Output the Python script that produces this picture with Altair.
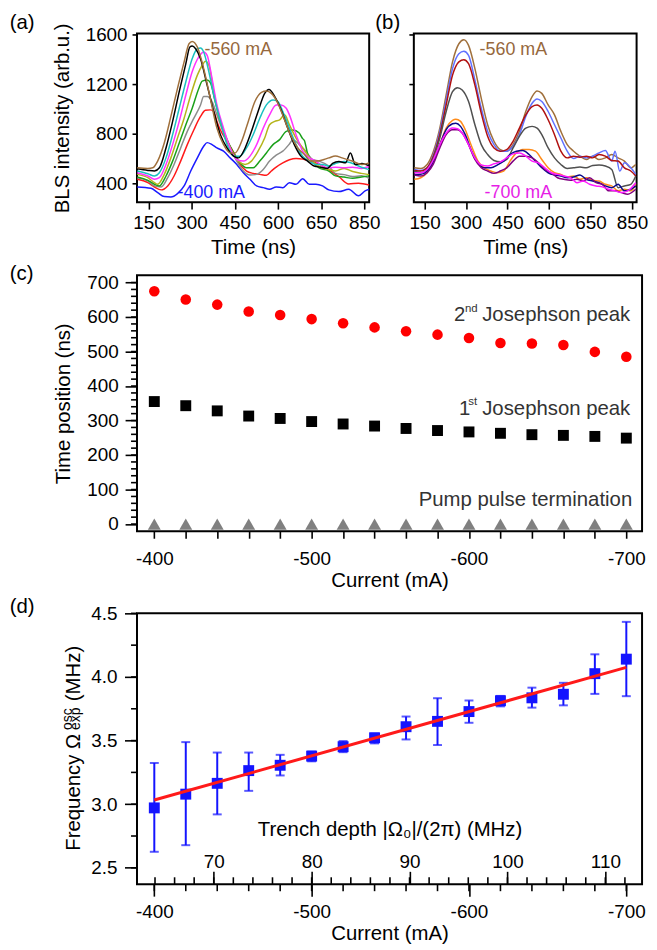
import altair as alt
import pandas as pd

FONT = "Liberation Sans"

# ---------------- panel (a): BLS traces from -400 to -560 mA ----------------
a_names = ["-400 mA", "-420 mA", "-440 mA", "-460 mA", "-480 mA",
           "-500 mA", "-520 mA", "-540 mA", "-560 mA"]
a_colors = ["#1a1aff", "#ff1a1a", "#8c8c8c", "#1aa01a", "#b4b41a",
            "#ff33ff", "#1ac0c0", "#000000", "#a0703c"]
a_m400 = [(111,371),(159,360),(182,325),(205,293),(228,290),(251,317),(274,379),(297,499),(320,605),(342,699),(354,728),(371,712),(388,685),(411,659),(434,605),(457,552),(480,485),(503,432),(526,379),(549,365),(571,352),(594,371),(617,365),(640,405),(663,392),(686,437),(709,392),(732,392),(755,379),(777,347),(812,333),(846,352),(880,299),(903,339),(917,352)]
a_m420 = [(111,432),(148,405),(171,370),(194,347),(217,379),(239,459),(262,579),(285,712),(308,832),(331,939),(348,989),(365,992),(377,979),(388,899),(400,830),(423,740),(446,650),(468,552),(491,499),(514,480),(537,472),(560,465),(577,499),(594,531),(617,565),(640,590),(663,600),(686,595),(709,580),(732,565),(755,540),(777,510),(812,453),(846,395),(880,400),(917,387)]
a_m440 = [(111,445),(148,419),(171,379),(194,370),(217,445),(239,552),(262,685),(285,819),(308,925),(331,1032),(342,1099),(354,1099),(371,1059),(388,952),(411,805),(434,685),(457,579),(480,499),(503,467),(526,472),(549,512),(571,579),(594,627),(617,659),(640,717),(652,752),(674,712),(697,659),(720,592),(743,579),(777,539),(800,480),(830,470),(860,455),(890,460),(917,440)]
a_m460 = [(111,451),(148,424),(171,392),(188,379),(211,459),(234,579),(257,725),(280,872),(302,1005),(325,1165),(337,1224),(354,1232),(365,1213),(382,1059),(400,899),(423,752),(446,645),(468,565),(491,525),(514,525),(537,579),(560,645),(583,712),(606,752),(629,819),(652,829),(674,805),(686,760),(692,745),(703,640),(720,579),(743,525),(777,499),(800,460),(830,450),(860,440),(890,450),(917,460)]
a_m480 = [(111,472),(148,445),(171,405),(182,392),(205,472),(228,605),(251,765),(274,925),(297,1112),(320,1272),(337,1352),(348,1384),(360,1352),(377,1139),(394,952),(417,779),(440,659),(463,579),(486,552),(508,579),(531,659),(554,765),(571,872),(589,899),(606,912),(623,952),(640,872),(663,765),(686,685),(709,611),(732,552),(755,525),(777,512),(800,500),(830,520),(860,495),(890,480),(917,470)]
a_m500 = [(111,485),(148,459),(171,432),(188,445),(211,552),(234,712),(257,899),(280,1112),(302,1299),(325,1419),(342,1459),(354,1432),(371,1245),(388,1032),(411,845),(434,685),(457,592),(480,579),(503,619),(526,712),(549,845),(571,952),(594,1032),(611,1032),(629,1005),(640,952),(663,792),(686,659),(709,605),(732,579),(755,539),(777,525),(800,530),(830,525),(860,530),(890,520),(917,535)]
a_m520 = [(111,499),(148,477),(171,459),(188,485),(211,605),(234,792),(257,1005),(280,1219),(302,1405),(320,1485),(331,1491),(342,1459),(360,1299),(377,1112),(400,899),(423,712),(446,619),(468,619),(491,685),(514,792),(537,925),(560,1032),(583,1072),(600,1059),(617,979),(640,845),(663,712),(686,619),(709,579),(732,552),(755,552),(777,539),(800,560),(830,575),(860,560),(890,530),(917,510)]
a_m540 = [(111,517),(148,504),(171,499),(188,525),(211,685),(234,899),(257,1139),(280,1365),(294,1499),(302,1507),(314,1485),(331,1405),(354,1192),(377,979),(400,792),(423,685),(446,619),(463,605),(486,685),(508,819),(531,979),(554,1125),(569,1157),(589,1099),(611,992),(634,845),(657,712),(680,619),(703,579),(726,539),(749,530),(772,520),(790,560),(812,575),(835,565),(852,645),(869,552),(892,560),(917,540)]
a_m560 = [(111,525),(148,520),(165,525),(182,579),(205,725),(228,939),(251,1165),(274,1379),(291,1525),(302,1544),(320,1499),(342,1325),(365,1085),(388,845),(411,712),(434,645),(451,645),(474,739),(497,899),(520,1059),(543,1133),(560,1144),(577,1125),(600,1045),(623,912),(646,779),(669,685),(692,632),(715,579),(737,579),(760,592),(777,605),(800,620),(823,605),(858,580),(892,552),(917,565)]
a_curves = [a_m400, a_m420, a_m440, a_m460, a_m480, a_m500, a_m520, a_m540, a_m560]

# ---------------- panel (b): BLS traces from -560 to -700 mA ----------------
b_names = ["-560 mA ", "-580 mA", "-600 mA", "-620 mA",
           "-640 mA", "-660 mA", "-680 mA", "-700 mA"]
b_colors = ["#a0703c", "#6070ff", "#b01010", "#505050",
            "#ff8c1a", "#0a0a8c", "#800080", "#ff1aff"]
b_t1 = [113,136,159,182,205,228,251,274,292,309,332,355,378,401,424,447,470,493,516,539,557,574,597,620,643,666,689,712,735,758,781,804,827,850,873,896,914]
b_m560 = [525,520,552,659,845,1112,1379,1525,1557,1512,1325,1085,872,739,672,659,712,819,979,1099,1144,1125,1032,952,819,712,659,619,592,619,592,605,632,605,579,525,552]
b_t2 = [113,136,159,182,205,228,251,274,292,309,332,355,378,401,424,447,470,493,516,539,557,574,597,620,643,666,689,712,735,758,781,804,827,839,856,873,896,914]
b_m580 = [512,504,525,632,819,1072,1325,1445,1464,1432,1232,1005,819,712,659,659,699,792,939,1045,1080,1059,979,872,765,659,600,619,605,619,645,664,579,659,499,565,525,472]
b_m600 = [504,499,525,619,792,1032,1272,1379,1397,1365,1192,965,779,685,659,672,739,845,952,1019,1032,1005,912,792,659,605,619,611,619,605,632,619,584,579,525,499,459]
b_t3 = [113,136,159,182,205,228,251,269,286,309,332,355,378,401,424,447,470,493,516,539,557,574,597,620,643,666,689,712,735,758,781,804,827,850,873,896,914]
b_m620 = [499,485,512,605,765,979,1139,1171,1152,1059,872,712,632,584,573,592,685,779,845,859,845,792,685,605,552,520,525,531,525,544,547,539,512,365,379,392,459]
b_t4 = [113,136,159,182,205,228,251,263,280,297,320,343,366,390,413,436,459,482,505,528,551,574,597,620,643,666,689,712,735,758,781,804,827,850,873,896,914]
b_m640 = [432,445,485,579,712,845,907,917,899,832,699,579,525,499,485,499,579,645,672,672,659,592,525,485,472,451,459,432,445,424,419,392,379,339,352,339,392]
b_m660 = [472,472,499,579,712,832,880,885,859,792,659,565,525,525,547,579,632,659,664,632,579,525,485,467,459,445,451,467,432,419,405,379,365,392,339,352,379]
b_t5 = [113,136,159,182,205,228,251,269,286,309,332,355,378,401,424,447,470,493,516,539,562,585,608,631,654,678,701,724,747,770,793,816,839,862,885,914]
b_m680 = [467,459,485,557,685,792,832,832,805,712,592,525,499,480,499,525,579,619,619,605,565,512,485,445,432,424,432,419,445,405,392,339,339,325,312,352]
b_m700 = [485,485,512,592,712,805,845,840,805,712,605,547,539,557,573,605,637,645,619,579,565,525,485,472,459,445,405,419,392,379,371,352,339,325,339,405]
b_curves = [(b_t1, b_m560), (b_t2, b_m580), (b_t1, b_m600), (b_t3, b_m620),
            (b_t4, b_m640), (b_t4, b_m660), (b_t5, b_m680), (b_t5, b_m700)]

time_tick_values = [150, 300, 450, 600, 750, 900]
time_tick_labels = ["150", "300", "450", "600", "650", "850"]
bls_tick_values = [400, 800, 1200, 1600]
trace_labels_a = ["-560 mA", "-400 mA"]
trace_labels_b = ["-560 mA", "-700 mA"]

# ---------------- panel (c): peak positions ----------------
currents = [-400, -420, -440, -460, -480, -500, -520, -540,
            -560, -580, -600, -620, -640, -660, -680, -700]
peak2 = [675, 651, 636, 616, 606, 594, 582, 570, 559, 549, 539, 525, 523, 519, 499, 485]
peak1 = [355, 343, 328, 313, 306, 297, 290, 284, 277, 271, 267, 263, 259, 257, 254, 249]
pump = [0, 0, 0, 0, 0, 0, 0, 0, 0, 0, 0, 0, 0, 0, 0, 0]
current_ticks = [-400, -420, -440, -460, -480, -500, -520, -540,
                 -560, -580, -600, -620, -640, -660, -680, -700]
current_major = [-400, -500, -600, -700]
time_pos_major = [0, 100, 200, 300, 400, 500, 600, 700]
time_pos_minor = list(range(0, 701, 20))
c_texts = ["2", "nd", "Josephson peak", "1", "st", "Pump pulse termination"]

# ---------------- panel (d): oscillation frequency ----------------
freq = [2.971, 3.079, 3.164, 3.264, 3.306, 3.378, 3.452, 3.522,
        3.609, 3.651, 3.728, 3.813, 3.836, 3.864, 4.026, 4.140]
freq_hi = [3.324, 3.488, 3.406, 3.406, 3.388, 3.414, 3.496, 3.555,
           3.689, 3.833, 3.815, 3.851, 3.916, 3.954, 4.178, 4.433]
freq_lo = [2.626, 2.678, 2.920, 3.105, 3.226, 3.337, 3.409, 3.478,
           3.509, 3.465, 3.640, 3.769, 3.759, 3.777, 3.867, 3.849]
fit_current = [-400, -700]
fit_freq = [3.033, 4.075]
freq_major = [2.5, 3.0, 3.5, 4.0, 4.5]
freq_minor = [2.5, 2.75, 3.0, 3.25, 3.5, 3.75, 4.0, 4.25, 4.5]
trench_major = [70, 80, 90, 100, 110]
trench_minor = list(range(64, 113, 2))
d_ytitle = ["Frequency Ω", "osc", "exp", "(MHz)"]
trench_title = "Trench depth |Ω₀|/(2π) (MHz)"
panel_labels = ["(a)", "(b)", "(c)", "(d)"]

# ---------------- geometry / style ----------------
W_A, W_B, H_AB = 234, 224.5, 170
W_CD, H_C, H_D = 509, 258, 273
TITLE_FS, LABEL_FS = 20.5, 19
ANN = "#333333"
BLUE = "#1414ff"
TICK_W = 1.6

def label_text(text, x, y):
    return alt.Chart(pd.DataFrame({"s": [text]})).mark_text(
        align="left", baseline="middle", fontSize=20.5, color="black").encode(
        x=alt.value(x), y=alt.value(y), text="s:N")

time_label_expr = "".join(f"datum.value == {v} ? '{l}' : " for v, l in zip(time_tick_values, time_tick_labels)) + "''"

def time_x(domain):
    return alt.X("t:Q", scale=alt.Scale(domain=domain, nice=False, zero=False),
                 axis=alt.Axis(values=time_tick_values, labelExpr=time_label_expr, tickSize=7,
                               labelPadding=5, title="Time (ns)", titleY=52,
                               titleBaseline="alphabetic"))

def bls_y(with_labels):
    if with_labels:
        ax = alt.Axis(values=bls_tick_values, tickSize=5, labelPadding=5, format="d",
                      title="BLS intensity (arb.u.)", titleX=-69, titleBaseline="alphabetic")
    else:
        ax = alt.Axis(values=bls_tick_values, tickSize=5, labels=False, title=None)
    return alt.Y("I:Q", scale=alt.Scale(domain=[248, 1608], nice=False, zero=False), axis=ax)

def trace_text(text, t, i, color, xdom, with_labels):
    return alt.Chart(pd.DataFrame({"t": [t], "I": [i], "s": [text]})).mark_text(
        align="left", baseline="alphabetic", fontSize=18, color=color).encode(
        x=time_x(xdom), y=bls_y(with_labels), text="s:N")

# panel (a)
DOM_A = [110.2, 917.2]
rows_a = [{"series": n, "t": t, "I": v} for n, pts in zip(a_names, a_curves) for t, v in pts]
lines_a = alt.Chart(pd.DataFrame(rows_a)).mark_line(strokeWidth=1.5, interpolate="monotone").encode(
    x=time_x(DOM_A), y=bls_y(True),
    color=alt.Color("series:N", scale=alt.Scale(domain=a_names, range=a_colors), legend=None))
panel_a = alt.layer(
    lines_a,
    trace_text(trace_labels_a[0], 345, 1438, "#96683c", DOM_A, True),
    trace_text(trace_labels_a[1], 251, 280, "#1a1aff", DOM_A, True),
    label_text(panel_labels[0], -128.2, -10.5),
    label_text(panel_labels[1], 240.2, -10.5),
).properties(width=W_A, height=H_AB)

# panel (b)
DOM_B = [111, 917]
rows_b = [{"series": n, "t": t, "I": v} for n, (ts, vs) in zip(b_names, b_curves) for t, v in zip(ts, vs)]
lines_b = alt.Chart(pd.DataFrame(rows_b)).mark_line(strokeWidth=1.5, interpolate="monotone").encode(
    x=time_x(DOM_B), y=bls_y(False),
    color=alt.Color("series:N", scale=alt.Scale(domain=b_names, range=b_colors), legend=None))
panel_b = alt.layer(
    lines_b,
    trace_text(trace_labels_b[0], 349, 1432, "#96683c", DOM_B, False),
    trace_text(trace_labels_b[1], 367, 278, "#e61ee6", DOM_B, False),
).properties(width=W_B, height=H_AB)

row1 = alt.hconcat(panel_a, panel_b, spacing=5).resolve_scale(color="independent")

# panel (c)
cur_scale = alt.Scale(domain=[-710, -389], reverse=True, nice=False, zero=False)
cur_label_expr = "datum.value % 100 == 0 ? toString(datum.value) : ''"
tpos_scale = alt.Scale(domain=[-21, 721], nice=False, zero=False)

def cur_x_c():
    return alt.X("current:Q", scale=cur_scale,
                 axis=alt.Axis(orient="bottom", values=current_ticks, labelExpr=cur_label_expr,
                               tickSize=7, labelPadding=11.5, title="Current (mA)", titleY=55.4,
                               titleBaseline="alphabetic"))

def time_y_c():
    return alt.Y("time:Q", scale=tpos_scale,
                 axis=alt.Axis(orient="left", values=time_pos_major, tickSize=12, labelPadding=7,
                               title="Time position (ns)", titleX=-68.5,
                               titleBaseline="alphabetic"))

def c_text(text, cur, tm, size):
    return alt.Chart(pd.DataFrame({"current": [cur], "time": [tm], "s": [text]})).mark_text(
        align="left", baseline="alphabetic", fontSize=size, color=ANN).encode(
        x=cur_x_c(), y=time_y_c(), text="s:N")

def c_points(values, **mk):
    return alt.Chart(pd.DataFrame({"current": currents, "time": values})).mark_point(
        filled=True, opacity=1, strokeWidth=0, **mk).encode(x=cur_x_c(), y=time_y_c())

minor_c = alt.Chart(pd.DataFrame({"time": time_pos_minor})).mark_rule(
    color="black", strokeWidth=TICK_W).encode(
    y=time_y_c(), x=alt.value(-6), x2=alt.value(0))

panel_c = alt.layer(
    minor_c,
    c_points(peak2, shape="circle", size=113, color="#ff0000"),
    c_points(peak1, shape="square", size=121, color="#000000"),
    c_points(pump, shape="triangle-up", size=170, color="#808080"),
    c_text(c_texts[0], -590.5, 587.6, 20.5),
    c_text(c_texts[1], -597.4, 616, 11.5),
    c_text(c_texts[2], -608.4, 587.6, 20.5),
    c_text(c_texts[3], -593.6, 315.8, 20.5),
    c_text(c_texts[4], -599.6, 344.4, 11.5),
    c_text(c_texts[2], -608.4, 315.8, 20.5),
    c_text(c_texts[5], -568, 53.5, 20.5),
    label_text(panel_labels[2], -128.2, -1),
).properties(width=W_CD, height=H_C)

# panel (d)
df_d = pd.DataFrame({"current": currents, "freq": freq, "lo": freq_lo, "hi": freq_hi})
df_fit = pd.DataFrame({"current": fit_current, "freq": fit_freq})
fscale = alt.Scale(domain=[2.371, 4.5], nice=False, zero=False)

def cur_x_d():
    return alt.X("current:Q", scale=cur_scale,
                 axis=alt.Axis(orient="bottom", values=current_major, labelExpr=cur_label_expr,
                               tickSize=12, labelPadding=7, title="Current (mA)", titleY=55.5,
                               titleBaseline="alphabetic"))

def freq_y(field):
    return alt.Y(f"{field}:Q", scale=fscale,
                 axis=alt.Axis(orient="left", values=freq_major, format=".1f", tickSize=12.6,
                               labelPadding=7.6, title=None))

def rot_text(text, x, y, size):
    return alt.Chart(pd.DataFrame({"s": [text]})).mark_text(
        align="left", baseline="alphabetic", angle=270, fontSize=size, color="black").encode(
        x=alt.value(x), y=alt.value(y), text="s:N")

base_d = alt.Chart(df_d)
minor_d_y = alt.Chart(pd.DataFrame({"freq": freq_minor})).mark_rule(
    color="black", strokeWidth=TICK_W).encode(
    y=freq_y("freq"), x=alt.value(-6), x2=alt.value(0))
minor_d_x = alt.Chart(pd.DataFrame({"current": current_ticks})).mark_rule(
    color="black", strokeWidth=TICK_W).encode(
    x=cur_x_d(), y=alt.value(H_D), y2=alt.value(H_D + 7))
inner_d = alt.layer(
    minor_d_y,
    minor_d_x,
    base_d.mark_rule(color=BLUE, strokeWidth=2).encode(x=cur_x_d(), y=freq_y("lo"), y2="hi:Q"),
    base_d.mark_tick(color=BLUE, orient="horizontal", size=9, thickness=2).encode(x=cur_x_d(), y=freq_y("hi")),
    base_d.mark_tick(color=BLUE, orient="horizontal", size=9, thickness=2).encode(x=cur_x_d(), y=freq_y("lo")),
    base_d.mark_point(shape="square", filled=True, size=121, color=BLUE, opacity=1,
                      strokeWidth=0).encode(x=cur_x_d(), y=freq_y("freq")),
    alt.Chart(df_fit).mark_line(color="#ff1a1a", strokeWidth=3).encode(x=cur_x_d(), y=freq_y("freq")),
    rot_text(d_ytitle[0], -57.8, 239.2, 20.5),
    rot_text(d_ytitle[1], -65.5, 117.5, 14),
    rot_text(d_ytitle[2], -57, 117.5, 14),
    rot_text(d_ytitle[3], -57.8, 88.5, 20.5),
    label_text(panel_labels[3], -128.2, -6.1),
)
trench_layer = alt.Chart(pd.DataFrame({"trench": trench_minor})).mark_rule(
    color="black", strokeWidth=TICK_W).encode(
    x=alt.X("trench:Q", scale=alt.Scale(domain=[62.16, 113.75], nice=False, zero=False),
            axis=alt.Axis(orient="top", offset=-H_D, values=trench_major, tickSize=13,
                          labelPadding=0, title=trench_title, titleY=-48.7,
                          titleBaseline="alphabetic")),
    y=alt.value(H_D - 7), y2=alt.value(H_D))
panel_d = alt.layer(inner_d, trench_layer).resolve_scale(x="independent").properties(
    width=W_CD, height=H_D)

chart = alt.vconcat(row1, panel_c, panel_d, spacing=3.7).properties(padding=0)

chart = chart.configure_view(stroke="black", strokeWidth=2).configure_axis(
    grid=False, domain=False, labelFont=FONT, titleFont=FONT, labelFontSize=LABEL_FS,
    titleFontSize=TITLE_FS, labelColor="black", titleColor="black", tickColor="black",
    tickWidth=TICK_W, titleFontWeight="normal", labelFlush=False, labelOverlap=False
).configure_text(font=FONT)

chart.save("out.html", embed_options={"renderer": "svg", "actions": False})
